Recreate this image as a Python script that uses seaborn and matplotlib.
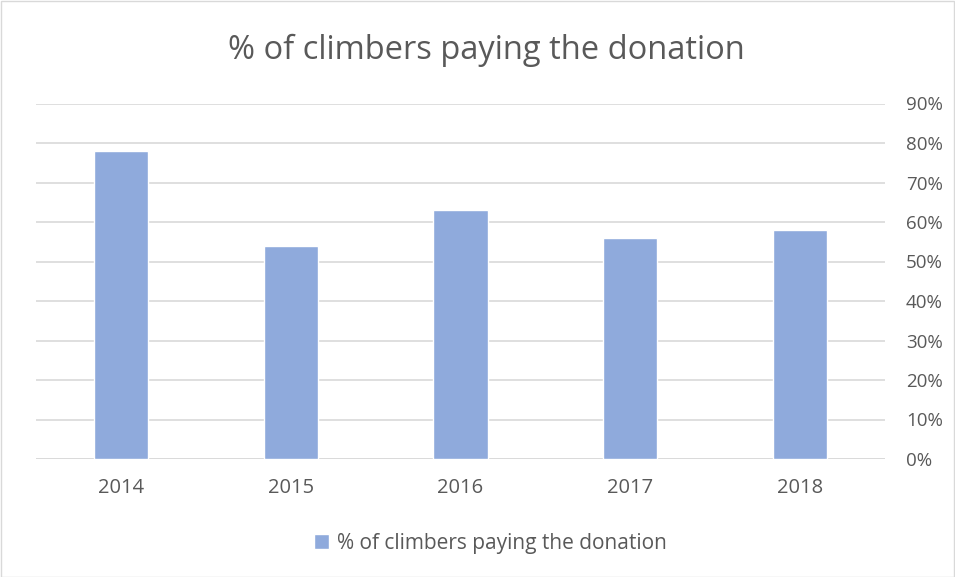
import matplotlib
matplotlib.use("Agg")
import matplotlib.pyplot as plt
import seaborn as sns
import pandas as pd
from matplotlib.patches import Rectangle
from matplotlib.ticker import PercentFormatter, MultipleLocator

years = ["2014", "2015", "2016", "2017", "2018"]
values = [78, 54, 63, 56, 58]
series_name = "% of climbers paying the donation"

df = pd.DataFrame({"year": years, "value": values})

sns.set_theme(style="white")
plt.rcParams["font.family"] = ["Open Sans", "DejaVu Sans"]

fig = plt.figure(figsize=(9.55, 5.77), dpi=100)
ax = fig.add_axes([36 / 955, 1 - 459 / 577, (885 - 36) / 955, (459 - 103.5) / 577])

sns.barplot(data=df, x="year", y="value", color="#8FAADC", width=0.32,
            saturation=1, ax=ax, label=series_name, zorder=3)

ax.set_ylim(0, 90)
ax.yaxis.set_major_locator(MultipleLocator(10))
ax.yaxis.set_major_formatter(PercentFormatter(decimals=0))
ax.yaxis.tick_right()
ax.grid(axis="y", color="#d9d9d9", linewidth=1.2, zorder=0)
ax.set_axisbelow(True)
for s in ax.spines.values():
    s.set_visible(False)
ax.axhline(0, color="#d9d9d9", linewidth=1.2, zorder=1)
ax.set_xlabel("")
ax.set_ylabel("")
ax.tick_params(axis="both", length=0, colors="#595959")
ax.tick_params(axis="x", labelsize=14.5, pad=14)
ax.tick_params(axis="y", labelsize=13.5, pad=15)

fig.text(486 / 955, 1 - 50 / 577, series_name, ha="center", va="center",
         fontsize=23.5, color="#595959")

leg = ax.legend(loc="center", bbox_to_anchor=(490 / 955, 1 - 543 / 577),
                bbox_transform=fig.transFigure, frameon=False, fontsize=15,
                handlelength=0.75, handleheight=0.75, handletextpad=0.35)
for t in leg.get_texts():
    t.set_color("#595959")

fig.patches.append(Rectangle((0.5 / 955, 0.5 / 577), 1 - 1.5 / 955, 1 - 1.5 / 577,
                             transform=fig.transFigure, fill=False,
                             edgecolor="#d9d9d9", linewidth=1))

fig.savefig("out.png", dpi=100)
